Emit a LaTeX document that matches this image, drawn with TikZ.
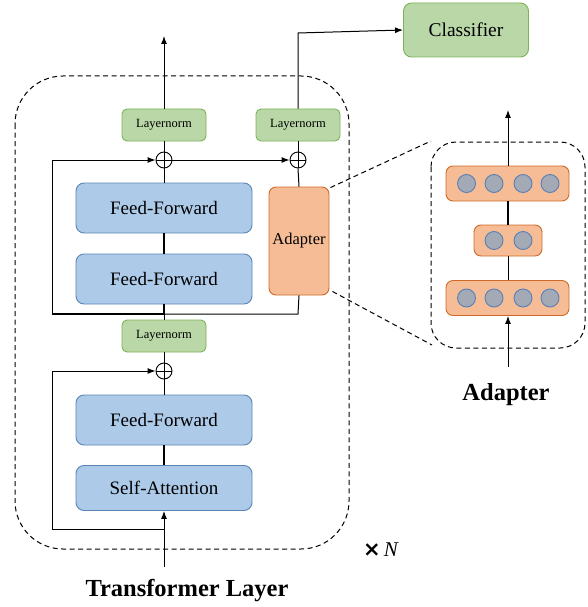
\documentclass[tikz,border=0pt]{standalone}
\usepackage{fontspec}
\setmainfont{Liberation Serif}
\newfontfamily\symfont{DejaVu Sans}
\usetikzlibrary{arrows.meta,calc}
\definecolor{bfill}{HTML}{ADCBE9}
\definecolor{bdraw}{HTML}{5A85B5}
\definecolor{gfill}{HTML}{B9D7A7}
\definecolor{gdraw}{HTML}{7DB35A}
\definecolor{ofill}{HTML}{F5BC96}
\definecolor{odraw}{HTML}{CF6A26}
\definecolor{cfill}{HTML}{A3A9B5}
\definecolor{cdraw}{HTML}{5B7FB5}
\tikzset{
  bluebox/.style={draw=bdraw,fill=bfill,line width=0.9pt,rounded corners=8pt,minimum width=176pt,minimum height=50pt,inner sep=0pt,font=\fontsize{19}{22}\selectfont},
  lnbox/.style={draw=gdraw,fill=gfill,line width=0.9pt,rounded corners=5pt,minimum width=84pt,minimum height=32pt,inner sep=0pt,font=\fontsize{12.5}{14}\selectfont},
  orbox/.style={draw=odraw,fill=ofill,line width=0.9pt,rounded corners=7pt,inner sep=0pt},
  neuron/.style={circle,draw=cdraw,fill=cfill,line width=0.9pt,minimum size=18pt,inner sep=0pt},
  oplus/.style={circle,draw,line width=0.9pt,minimum size=16pt,inner sep=0pt,path picture={
    \draw[line width=0.9pt] (path picture bounding box.north) -- (path picture bounding box.south)
      (path picture bounding box.west) -- (path picture bounding box.east);}},
  conn/.style={line width=1pt},
  arr/.style={line width=1pt,-{Latex[length=8pt,width=6pt]}},
  zoomdash/.style={line width=1pt,dash pattern=on 5pt off 3.5pt},
}
\begin{document}
\begin{tikzpicture}[x=1pt,y=-1pt]
\useasboundingbox (0,0) rectangle (587,607);

% outer dashed container
\draw[zoomdash,rounded corners=48pt] (15,76) rectangle (349,549);

% transformer nodes
\node[lnbox] (ln1) at (164,125) {Layernorm};
\node[lnbox] (ln2) at (298,125) {Layernorm};
\node[oplus] (p1) at (164,160) {};
\node[oplus] (p2) at (298,160) {};
\node[bluebox] (ff1) at (164,208) {Feed-Forward};
\node[bluebox] (ff2) at (164,279) {Feed-Forward};
\node[orbox,minimum width=60pt,minimum height=108pt,font=\fontsize{16.5}{19}\selectfont] (ad) at (299,241) {Adapter};
\node[lnbox] (ln3) at (164,336) {Layernorm};
\node[oplus] (p3) at (164,371) {};
\node[bluebox] (ff3) at (164,420) {Feed-Forward};
\node[bluebox,minimum height=45pt] (sa) at (164,488) {Self-Attention};
\node[draw=gdraw,fill=gfill,line width=0.9pt,rounded corners=8pt,minimum width=125pt,minimum height=54pt,inner sep=0pt,font=\fontsize{19.5}{22}\selectfont] (cls) at (466,30) {Classifier};

\coordinate (top1) at (164,36);
\coordinate (inp) at (164,567);
\coordinate (j1) at (164,314);
\coordinate (j2) at (164,529);
\coordinate (corner) at (298,33);

% main flow
\draw[arr] (ln1.north) -- (top1);
\draw[conn] (p1.north) -- (ln1.south);
\draw[conn] (ff1.north) -- (p1.south);
\draw[line width=1.6pt] (ff1.south) -- (ff2.north);
\draw[line width=1.6pt] (ff2.south) -- (j1);
\draw[conn] (j1) -- (ln3.north);
\draw[conn] (ln3.south) -- (p3.north);
\draw[conn] (p3.south) -- (ff3.north);
\draw[line width=1.6pt] (ff3.south) -- (sa.north);
\draw[arr] (inp) -- (sa.south);

% residuals
\draw[arr] (j2) -- (52,529) -- (52,371) -- (p3.west);
\draw[line width=1.6pt] (j1) -- (52,314);
\draw[arr] (52,314) -- (52,160) -- (p1.west);
\draw[conn] (j1) -- (298,314) -- (ad.south);
\draw[arr] (p1.east) -- (p2.west);
\draw[conn] (ad.north) -- (p2.south);
\draw[conn] (p2.north) -- (ln2.south);
\draw[arr] (ln2.north) -- (corner) -- (cls.west);

% adapter detail
\draw[zoomdash,rounded corners=25pt] (431,142) rectangle (585,348);
\node[orbox,minimum width=123pt,minimum height=35pt] (top) at (507.5,183.5) {};
\node[orbox,minimum width=68pt,minimum height=31pt] (mid) at (508,240.5) {};
\node[orbox,minimum width=123pt,minimum height=35pt] (bot) at (507.5,298) {};
\foreach \x/\n in {466.5/1,494/2,523/3,550/4}{
  \node[neuron] (t\n) at (\x,183.5) {};
  \node[neuron] (b\n) at (\x,298) {};
}
\node[neuron] (m1) at (494,240.5) {};
\node[neuron] (m2) at (523,240.5) {};
\coordinate (atop) at (508,110);
\coordinate (abot) at (508,367);
\draw[arr] (top.north -| atop) -- (atop);
\draw[line width=1.4pt] (top.south -| atop) -- (mid.north -| atop);
\draw[conn] (mid.south -| atop) -- (bot.north -| atop);
\draw[arr] (abot) -- (bot.south -| abot);

% zoom lines
\coordinate (zA) at (431,141);
\coordinate (zB) at (432,345);
\draw[zoomdash] ($(ad.north east)+(1,1)$) -- (zA);
\draw[zoomdash] ($(ad.south east)+(3,-4)$) -- (zB);

% labels
\node[font=\fontsize{24.5}{28}\selectfont\bfseries] (tl) at (187,591) {Transformer Layer};
\node[font=\fontsize{24.5}{28}\selectfont\bfseries] (al) at (506,395) {Adapter};
\node[font=\fontsize{21}{24}\selectfont] (xn) at (381,550) {{\symfont\bfseries ×}\kern3pt\textit{N}};
\end{tikzpicture}
\end{document}
